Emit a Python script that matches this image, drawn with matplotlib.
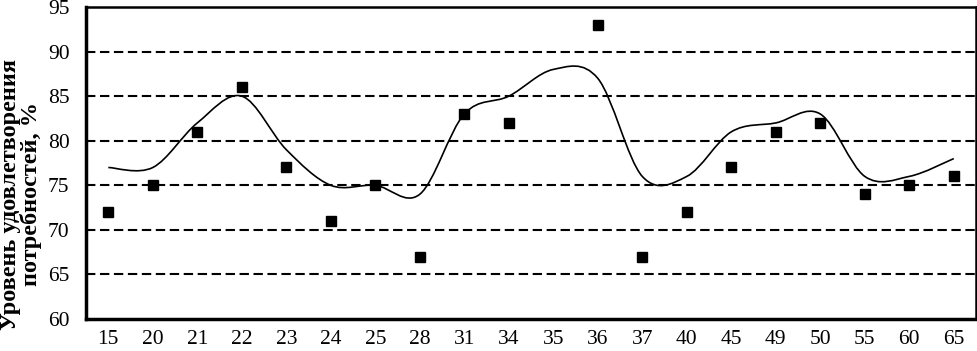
import numpy as np
import matplotlib.pyplot as plt
from matplotlib.path import Path
from matplotlib.patches import PathPatch

plt.rcParams["font.family"] = ["Liberation Serif", "DejaVu Serif"]

ages = ["15", "20", "21", "22", "23", "24", "25", "28", "31", "34",
        "35", "36", "37", "40", "45", "49", "50", "55", "60", "65"]
# observed points (no point at 35)
obs = [72, 75, 81, 86, 77, 71, 75, 67, 83, 82,
       np.nan, 93, 67, 72, 77, 81, 82, 74, 75, 76]
# smoothed trend line
trend = [77, 77, 82, 85, 79, 75, 75, 74, 83, 85,
         88, 87, 76, 76, 81, 82, 83, 76, 76, 78]


def smooth_path(xs, ys):
    # Catmull-Rom style bezier, like a spreadsheet "smoothed line"
    pts = np.column_stack([xs, ys]).astype(float)
    n = len(pts)
    verts = [tuple(pts[0])]
    codes = [Path.MOVETO]
    for i in range(n - 1):
        p0 = pts[max(i - 1, 0)]
        p1 = pts[i]
        p2 = pts[i + 1]
        p3 = pts[min(i + 2, n - 1)]
        c1 = p1 + (p2 - p0) / 6.0
        c2 = p2 - (p3 - p1) / 6.0
        verts += [tuple(c1), tuple(c2), tuple(p2)]
        codes += [Path.CURVE4] * 3
    return Path(verts, codes)


x = np.arange(len(ages))

fig = plt.figure(figsize=(9.78, 3.51), dpi=100)
ax = fig.add_axes([0.088, 0.091, 0.91, 0.889])

for yv in [65, 70, 75, 80, 85, 90]:
    ax.axhline(yv, color="black", lw=1.5, ls=(0, (4.5, 2.2)), zorder=1)

ax.add_patch(PathPatch(smooth_path(x, trend), facecolor="none",
                       edgecolor="black", lw=1.2, zorder=2))
ax.plot(x, obs, ls="none", marker="s", ms=6.5, color="black", zorder=3)

ax.set_xlim(-0.5, len(ages) - 0.5)
ax.set_ylim(60, 95)
ax.set_yticks(range(60, 96, 5))
ax.set_xticks(x)
ax.set_xticklabels(ages)
ax.tick_params(axis="both", length=0, labelsize=15.5)
ax.tick_params(axis="y", pad=12)
ax.tick_params(axis="x", pad=8)

for side in ["left", "bottom"]:
    ax.spines[side].set_linewidth(2.5)
for side in ["top", "right"]:
    ax.spines[side].set_linewidth(1.8)

ax.set_ylabel("Уровень удовлетворения\nпотребностей, %", fontsize=17.5,
              fontweight="bold", linespacing=0.95)
ax.yaxis.set_label_coords(-0.049, 0.40)

fig.savefig("out.png", dpi=100)
